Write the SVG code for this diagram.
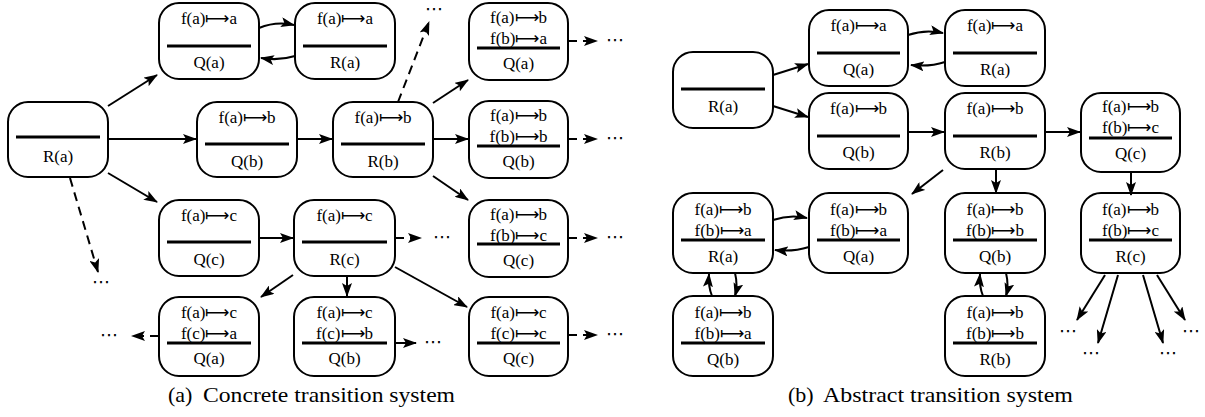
<svg xmlns="http://www.w3.org/2000/svg" width="1205" height="417" viewBox="0 0 1205 417">
  <style>
    .box { fill: #fff; stroke: #000; stroke-width: 2; }
    .sep { stroke: #000; stroke-width: 3; }
    .t { font-size: 17px; text-anchor: middle; fill: #000; }
    .dots { font-size: 18px; text-anchor: middle; fill: #000; }
    .cap { font-size: 22px; fill: #000; }
    .e { fill: none; stroke: #000; stroke-width: 2; marker-end: url(#ah); }
    .d { stroke-dasharray: 9 6; }
  </style>
  <defs>
    <marker id="ah" markerUnits="userSpaceOnUse" viewBox="0 0 14 10" markerWidth="14" markerHeight="10" refX="13" refY="5" orient="auto">
      <path d="M0,0 L14,5 L0,10 L3,5 z" fill="#000"/>
    </marker>
  </defs>

  <g font-family="Liberation Serif, Times New Roman, serif">
  <!-- ===== (a) concrete transition system ===== -->
  <g id="a-Ra0">
    <rect class="box" x="8" y="102" width="100" height="75" rx="20"/>
    <line class="sep" x1="16" y1="137" x2="100" y2="137"/>
    <text class="t" x="58" y="161.5">R(a)</text>
  </g>
  <g id="a-Qa">
    <rect class="box" x="159" y="3" width="100" height="76" rx="20"/>
    <text class="t" x="209" y="23.5">f(a)⟼a</text>
    <line class="sep" x1="167" y1="46" x2="251" y2="46"/>
    <text class="t" x="209" y="67.5">Q(a)</text>
  </g>
  <g id="a-Ra">
    <rect class="box" x="295" y="3" width="100" height="76" rx="20"/>
    <text class="t" x="345" y="23.5">f(a)⟼a</text>
    <line class="sep" x1="303" y1="46" x2="387" y2="46"/>
    <text class="t" x="345" y="67.5">R(a)</text>
  </g>
  <g id="a-Qb">
    <rect class="box" x="197" y="102" width="100" height="75" rx="20"/>
    <text class="t" x="247" y="122.5">f(a)⟼b</text>
    <line class="sep" x1="205" y1="144" x2="289" y2="144"/>
    <text class="t" x="247" y="166.5">Q(b)</text>
  </g>
  <g id="a-Rb">
    <rect class="box" x="333" y="102" width="100" height="75" rx="20"/>
    <text class="t" x="383" y="122.5">f(a)⟼b</text>
    <line class="sep" x1="341" y1="144" x2="425" y2="144"/>
    <text class="t" x="383" y="166.5">R(b)</text>
  </g>
  <g id="a-Qa2">
    <rect class="box" x="469" y="3" width="99" height="77" rx="20"/>
    <text class="t" x="518.5" y="23">f(a)⟼b</text>
    <text class="t" x="518.5" y="44">f(b)⟼a</text>
    <line class="sep" x1="477" y1="48" x2="560" y2="48"/>
    <text class="t" x="518.5" y="69">Q(a)</text>
  </g>
  <g id="a-Qb2">
    <rect class="box" x="469" y="101" width="99" height="77" rx="20"/>
    <text class="t" x="518.5" y="121">f(a)⟼b</text>
    <text class="t" x="518.5" y="142">f(b)⟼b</text>
    <line class="sep" x1="477" y1="146" x2="560" y2="146"/>
    <text class="t" x="518.5" y="167">Q(b)</text>
  </g>
  <g id="a-Qc">
    <rect class="box" x="159" y="200" width="100" height="76" rx="20"/>
    <text class="t" x="209" y="220.5">f(a)⟼c</text>
    <line class="sep" x1="167" y1="242" x2="251" y2="242"/>
    <text class="t" x="209" y="264.5">Q(c)</text>
  </g>
  <g id="a-Rc">
    <rect class="box" x="294" y="200" width="101" height="76" rx="20"/>
    <text class="t" x="344.5" y="220.5">f(a)⟼c</text>
    <line class="sep" x1="302" y1="242" x2="387" y2="242"/>
    <text class="t" x="344.5" y="264.5">R(c)</text>
  </g>
  <g id="a-Qc2">
    <rect class="box" x="469" y="200" width="99" height="77" rx="20"/>
    <text class="t" x="518.5" y="220">f(a)⟼b</text>
    <text class="t" x="518.5" y="241">f(b)⟼c</text>
    <line class="sep" x1="477" y1="244" x2="560" y2="244"/>
    <text class="t" x="518.5" y="266">Q(c)</text>
  </g>
  <g id="a-Qa3">
    <rect class="box" x="159" y="297" width="100" height="79" rx="20"/>
    <text class="t" x="209" y="318">f(a)⟼c</text>
    <text class="t" x="209" y="339">f(c)⟼a</text>
    <line class="sep" x1="167" y1="343" x2="251" y2="343"/>
    <text class="t" x="209" y="364">Q(a)</text>
  </g>
  <g id="a-Qb3">
    <rect class="box" x="294" y="297" width="101" height="79" rx="20"/>
    <text class="t" x="344.5" y="318">f(a)⟼c</text>
    <text class="t" x="344.5" y="339">f(c)⟼b</text>
    <line class="sep" x1="302" y1="343" x2="387" y2="343"/>
    <text class="t" x="344.5" y="364">Q(b)</text>
  </g>
  <g id="a-Qc3">
    <rect class="box" x="469" y="297" width="99" height="79" rx="20"/>
    <text class="t" x="518.5" y="318">f(a)⟼c</text>
    <text class="t" x="518.5" y="339">f(c)⟼c</text>
    <line class="sep" x1="477" y1="343" x2="560" y2="343"/>
    <text class="t" x="518.5" y="364">Q(c)</text>
  </g>

  <!-- ===== (b) abstract transition system ===== -->
  <g id="b-Ra0">
    <rect class="box" x="673" y="52" width="100" height="76" rx="20"/>
    <line class="sep" x1="681" y1="89" x2="765" y2="89"/>
    <text class="t" x="723" y="111.5">R(a)</text>
  </g>
  <g id="b-Qa">
    <rect class="box" x="809" y="10" width="99" height="76" rx="20"/>
    <text class="t" x="858.5" y="31">f(a)⟼a</text>
    <line class="sep" x1="817" y1="53" x2="900" y2="53"/>
    <text class="t" x="858.5" y="75">Q(a)</text>
  </g>
  <g id="b-Ra">
    <rect class="box" x="945" y="10" width="100" height="76" rx="20"/>
    <text class="t" x="995" y="31">f(a)⟼a</text>
    <line class="sep" x1="953" y1="53" x2="1037" y2="53"/>
    <text class="t" x="995" y="75">R(a)</text>
  </g>
  <g id="b-Qb">
    <rect class="box" x="809" y="93" width="99" height="76" rx="20"/>
    <text class="t" x="858.5" y="114">f(a)⟼b</text>
    <line class="sep" x1="817" y1="136" x2="900" y2="136"/>
    <text class="t" x="858.5" y="158">Q(b)</text>
  </g>
  <g id="b-Rb">
    <rect class="box" x="945" y="93" width="100" height="76" rx="20"/>
    <text class="t" x="995" y="114">f(a)⟼b</text>
    <line class="sep" x1="953" y1="136" x2="1037" y2="136"/>
    <text class="t" x="995" y="158">R(b)</text>
  </g>
  <g id="b-Qc">
    <rect class="box" x="1081" y="93" width="99" height="79" rx="20"/>
    <text class="t" x="1130.5" y="112">f(a)⟼b</text>
    <text class="t" x="1130.5" y="133">f(b)⟼c</text>
    <line class="sep" x1="1089" y1="138" x2="1172" y2="138"/>
    <text class="t" x="1130.5" y="159">Q(c)</text>
  </g>
  <g id="b-Ra2">
    <rect class="box" x="673" y="193" width="100" height="80" rx="20"/>
    <text class="t" x="723" y="215">f(a)⟼b</text>
    <text class="t" x="723" y="236">f(b)⟼a</text>
    <line class="sep" x1="681" y1="240" x2="765" y2="240"/>
    <text class="t" x="723" y="262">R(a)</text>
  </g>
  <g id="b-Qa2">
    <rect class="box" x="809" y="193" width="99" height="80" rx="20"/>
    <text class="t" x="858.5" y="215">f(a)⟼b</text>
    <text class="t" x="858.5" y="236">f(b)⟼a</text>
    <line class="sep" x1="817" y1="240" x2="900" y2="240"/>
    <text class="t" x="858.5" y="262">Q(a)</text>
  </g>
  <g id="b-Qb2">
    <rect class="box" x="945" y="193" width="100" height="80" rx="20"/>
    <text class="t" x="995" y="215">f(a)⟼b</text>
    <text class="t" x="995" y="236">f(b)⟼b</text>
    <line class="sep" x1="953" y1="240" x2="1037" y2="240"/>
    <text class="t" x="995" y="262">Q(b)</text>
  </g>
  <g id="b-Rc">
    <rect class="box" x="1081" y="193" width="99" height="80" rx="20"/>
    <text class="t" x="1130.5" y="215">f(a)⟼b</text>
    <text class="t" x="1130.5" y="236">f(b)⟼c</text>
    <line class="sep" x1="1089" y1="240" x2="1172" y2="240"/>
    <text class="t" x="1130.5" y="262">R(c)</text>
  </g>
  <g id="b-Qb3">
    <rect class="box" x="673" y="296" width="100" height="80" rx="20"/>
    <text class="t" x="723" y="318">f(a)⟼b</text>
    <text class="t" x="723" y="339">f(b)⟼a</text>
    <line class="sep" x1="681" y1="343" x2="765" y2="343"/>
    <text class="t" x="723" y="365">Q(b)</text>
  </g>
  <g id="b-Rb3">
    <rect class="box" x="945" y="296" width="100" height="80" rx="20"/>
    <text class="t" x="995" y="318">f(a)⟼b</text>
    <text class="t" x="995" y="339">f(b)⟼b</text>
    <line class="sep" x1="953" y1="343" x2="1037" y2="343"/>
    <text class="t" x="995" y="365">R(b)</text>
  </g>
  </g>

  <!-- transitions -->
  <g id="edges">
    <!-- (a) -->
    <path class="e" d="M108,106 L157,75"/>
    <path class="e" d="M108,139 L196,139"/>
    <path class="e" d="M108,173 L157,202"/>
    <path class="e d" d="M70,178 L98,272"/>
    <path class="e" d="M259,28 Q276,21 294,25"/>
    <path class="e" d="M295,56 Q279,61 261,58"/>
    <path class="e" d="M297,139 L332,139"/>
    <path class="e d" d="M398,102 L429,22"/>
    <path class="e" d="M433,103 L468,80"/>
    <path class="e" d="M433,139 L468,139"/>
    <path class="e" d="M433,176 L468,200"/>
    <path class="e d" d="M568,41 L597,41"/>
    <path class="e d" d="M568,139 L597,139"/>
    <path class="e d" d="M568,238 L597,238"/>
    <path class="e d" d="M568,335 L597,335"/>
    <path class="e" d="M259,238 L293,238"/>
    <path class="e d" d="M395,238 L421,238"/>
    <path class="e" d="M347,276 L347,296"/>
    <path class="e" d="M395,267 L467,307"/>
    <path class="e" d="M293,275 L261,297"/>
    <path class="e d" d="M159,336 L132,336"/>
    <path class="e" d="M395,343 L416,343"/>
    <!-- (b) -->
    <path class="e" d="M773,75 L808,64"/>
    <path class="e" d="M773,106 L808,117"/>
    <path class="e" d="M908,35 Q925,29 943,33"/>
    <path class="e" d="M945,62 Q930,67 911,65"/>
    <path class="e" d="M908,132 L944,132"/>
    <path class="e" d="M1045,132 L1080,132"/>
    <path class="e" d="M996,169 L996,193"/>
    <path class="e" d="M1131,172 L1131,195"/>
    <path class="e" d="M943,170 L912,194"/>
    <path class="e" d="M773,220 Q790,214 807,218"/>
    <path class="e" d="M809,247 Q793,252 775,250"/>
    <path class="e" d="M712,296 Q708,286 709,274"/>
    <path class="e" d="M735,273 Q738,285 735,296"/>
    <path class="e" d="M983,296 Q979,286 980,274"/>
    <path class="e" d="M1006,273 Q1009,285 1006,296"/>
    <path class="e" d="M1105,275 L1077,320"/>
    <path class="e" d="M1118,275 L1098,343"/>
    <path class="e" d="M1143,275 L1163,343"/>
    <path class="e" d="M1157,275 L1185,320"/>
  </g>

  <!-- continuation marks -->
  <g id="ellipses" font-family="DejaVu Sans, sans-serif">
    <text class="dots" x="434" y="15">⋯</text>
    <text class="dots" x="615" y="46">⋯</text>
    <text class="dots" x="615" y="144">⋯</text>
    <text class="dots" x="615" y="243">⋯</text>
    <text class="dots" x="615" y="340">⋯</text>
    <text class="dots" x="101" y="288">⋯</text>
    <text class="dots" x="442" y="243">⋯</text>
    <text class="dots" x="109" y="341">⋯</text>
    <text class="dots" x="433" y="348">⋯</text>
    <text class="dots" x="1068" y="337">⋯</text>
    <text class="dots" x="1091" y="359">⋯</text>
    <text class="dots" x="1168" y="359">⋯</text>
    <text class="dots" x="1191" y="337">⋯</text>
  </g>

  <g id="captions" font-family="Liberation Serif, Times New Roman, serif">
    <text class="cap" x="168" y="402">(a)</text>
    <text class="cap" x="203" y="402" textLength="252" lengthAdjust="spacingAndGlyphs">Concrete transition system</text>
    <text class="cap" x="788" y="402">(b)</text>
    <text class="cap" x="823" y="402" textLength="250" lengthAdjust="spacingAndGlyphs">Abstract transition system</text>
  </g>
</svg>
